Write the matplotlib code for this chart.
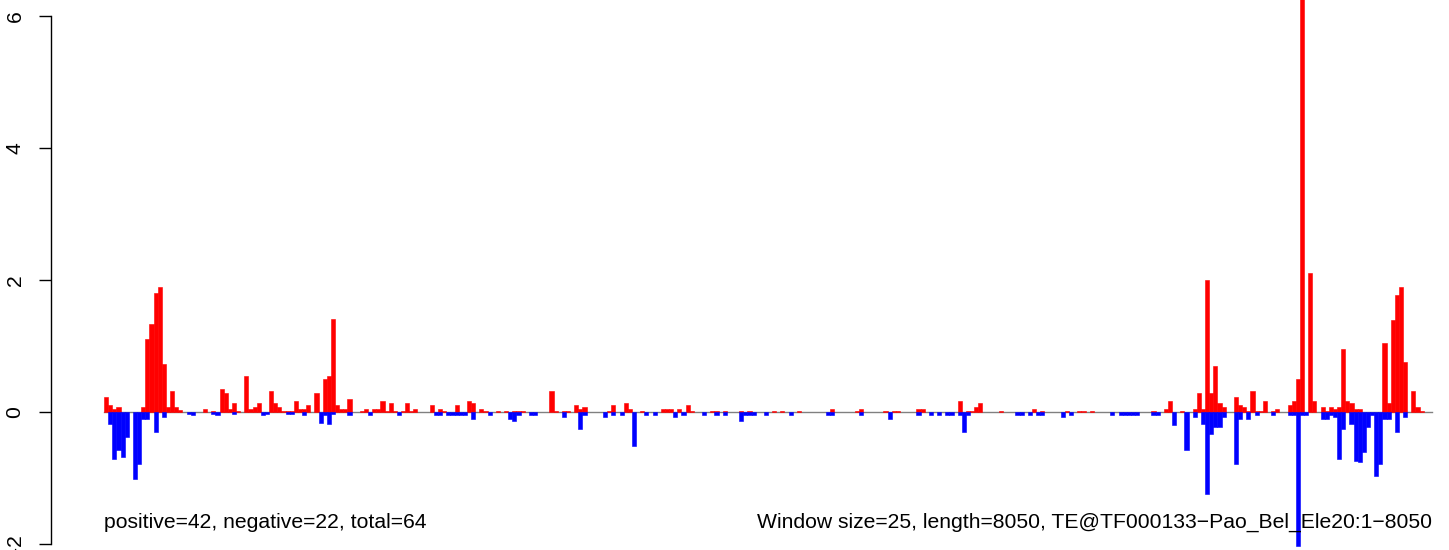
import numpy as np
import matplotlib.pyplot as plt

plt.rcParams['font.family'] = ['Liberation Sans', 'DejaVu Sans']

window = 25
seq_len = 8050

# window index -> score (positive strand, red)
pos_bins = [0, 1, 2, 3, 9, 10, 11, 12, 13, 14, 15, 16, 17, 18, 24, 26, 28, 29, 30, 31,
            32, 34, 35, 36, 37, 40, 41, 42, 43, 44, 45, 46, 47, 48, 49, 51, 53, 54, 55, 56,
            57, 58, 59, 62, 63, 65, 66, 67, 68, 69, 70, 72, 73, 74, 75, 79, 81, 82, 85, 88,
            89, 91, 92, 95, 97, 99, 100, 101, 108, 109, 111, 112, 114, 115, 116, 122, 123, 126, 127, 130,
            135, 136, 137, 139, 141, 142, 147, 148, 150, 154, 156, 162, 164, 168, 176, 182, 183, 189, 191, 192,
            197, 198, 207, 209, 210, 211, 212, 217, 225, 227, 233, 236, 237, 239, 254, 257, 258, 261, 264, 265,
            266, 267, 268, 269, 270, 271, 274, 275, 276, 277, 278, 279, 280, 281, 283, 284, 287, 288, 289, 290,
            292, 293, 295, 296, 297, 298, 299, 300, 301, 302, 303, 304, 310, 311, 312, 313, 314, 315, 317, 318,
            319]
pos_vals = [0.23, 0.10, 0.05, 0.08, 0.08, 1.10, 1.34, 1.81, 1.90, 0.73, 0.08, 0.31, 0.08, 0.03, 0.05, 0.02, 0.35, 0.28, 0.05, 0.13,
            0.02, 0.54, 0.05, 0.08, 0.13, 0.31, 0.13, 0.08, 0.02, 0.02, 0.02, 0.16, 0.05, 0.05, 0.10, 0.28, 0.50, 0.55, 1.41, 0.10,
            0.05, 0.05, 0.20, 0.02, 0.05, 0.05, 0.05, 0.16, 0.02, 0.13, 0.02, 0.02, 0.13, 0.02, 0.05, 0.10, 0.05, 0.02, 0.10, 0.16,
            0.13, 0.05, 0.02, 0.02, 0.02, 0.02, 0.02, 0.02, 0.32, 0.02, 0.02, 0.02, 0.10, 0.05, 0.08, 0.02, 0.10, 0.13, 0.05, 0.02,
            0.05, 0.05, 0.05, 0.05, 0.10, 0.02, 0.02, 0.02, 0.02, 0.02, 0.02, 0.02, 0.02, 0.02, 0.05, 0.02, 0.05, 0.02, 0.02, 0.02,
            0.05, 0.05, 0.16, 0.02, 0.02, 0.08, 0.13, 0.02, 0.05, 0.02, 0.02, 0.02, 0.02, 0.02, 0.02, 0.05, 0.17, 0.02, 0.05, 0.28,
            0.05, 2.00, 0.28, 0.69, 0.13, 0.08, 0.23, 0.10, 0.08, 0.02, 0.31, 0.02, 0.02, 0.17, 0.02, 0.05, 0.10, 0.16, 0.50, 6.50,
            2.11, 0.16, 0.08, 0.02, 0.08, 0.05, 0.08, 0.96, 0.16, 0.13, 0.05, 0.05, 1.04, 0.13, 1.40, 1.78, 1.90, 0.76, 0.31, 0.08,
            0.02]

# window index -> score (negative strand, blue)
neg_bins = [1, 2, 3, 4, 5, 7, 8, 9, 10, 12, 14, 20, 21, 26, 27, 31, 38, 39, 44, 45,
            48, 52, 53, 54, 55, 59, 64, 71, 80, 81, 83, 84, 85, 86, 87, 89, 93, 98, 99, 100,
            103, 104, 111, 115, 116, 121, 123, 125, 128, 131, 133, 138, 140, 145, 148, 150, 154, 155, 156, 157,
            160, 166, 175, 176, 183, 190, 197, 200, 202, 204, 205, 207, 208, 209, 221, 222, 224, 226, 227, 232,
            234, 244, 246, 247, 248, 249, 250, 254, 255, 259, 262, 264, 266, 267, 268, 269, 270, 271, 274, 275,
            277, 279, 283, 287, 288, 289, 290, 291, 295, 296, 297, 298, 299, 300, 302, 303, 304, 305, 306, 307,
            308, 309, 310, 311, 313, 315]
neg_vals = [-0.18, -0.72, -0.57, -0.69, -0.38, -1.02, -0.79, -0.11, -0.11, -0.31, -0.08, -0.03, -0.05, -0.03, -0.05, -0.03, -0.05, -0.03, -0.03, -0.03,
            -0.05, -0.16, -0.05, -0.19, -0.03, -0.05, -0.04, -0.04, -0.05, -0.04, -0.05, -0.04, -0.04, -0.04, -0.04, -0.11, -0.05, -0.11, -0.13, -0.04,
            -0.05, -0.04, -0.08, -0.26, -0.04, -0.08, -0.05, -0.05, -0.51, -0.04, -0.04, -0.08, -0.05, -0.05, -0.04, -0.04, -0.13, -0.04, -0.04, -0.04,
            -0.05, -0.05, -0.04, -0.04, -0.04, -0.11, -0.04, -0.04, -0.05, -0.04, -0.05, -0.05, -0.31, -0.05, -0.05, -0.04, -0.04, -0.04, -0.04, -0.08,
            -0.04, -0.04, -0.04, -0.04, -0.04, -0.05, -0.04, -0.04, -0.04, -0.20, -0.57, -0.08, -0.19, -1.25, -0.34, -0.23, -0.23, -0.08, -0.79, -0.11,
            -0.11, -0.04, -0.04, -0.05, -0.04, -2.03, -0.04, -0.04, -0.11, -0.11, -0.04, -0.08, -0.72, -0.26, -0.19, -0.75, -0.76, -0.61, -0.23, -0.04,
            -0.97, -0.79, -0.11, -0.11, -0.31, -0.08]

left_label = "positive=42, negative=22, total=64"
right_label = "Window size=25, length=8050, TE@TF000133\u2212Pao_Bel_Ele20:1\u22128050"
yticks = [-2, 0, 2, 4, 6]

W, H = 1449, 550
fig = plt.figure(figsize=(W / 100, H / 100), dpi=100)

# plot region in pixels, R style 4% padding (partly off canvas)
x0_px, x1_px = 51, 1485
top_px, bot_px = -5, 565
ax = fig.add_axes([x0_px / W, (H - bot_px) / H, (x1_px - x0_px) / W, (bot_px - top_px) / H])
ax.set_xlim(-0.04 * seq_len, 1.04 * seq_len)
ax.set_ylim(-2.32, 6.32)

ax.plot([0, seq_len], [0, 0], color='#808080', lw=1.0, zorder=1)

ax.bar(np.array(pos_bins) * window, pos_vals, width=window, align='edge',
       color='red', edgecolor='red', linewidth=0.4, zorder=2)
ax.bar(np.array(neg_bins) * window, neg_vals, width=window, align='edge',
       color='blue', edgecolor='blue', linewidth=0.4, zorder=2)

for side in ['top', 'right', 'bottom']:
    ax.spines[side].set_visible(False)
ax.spines['left'].set_bounds(-2, 6)
ax.spines['left'].set_linewidth(1.0)
ax.set_xticks([])
ax.set_yticks(yticks)
ax.set_yticklabels([str(t) for t in yticks], rotation=90, va='center')
ax.tick_params(axis='y', length=9, width=1.0, labelsize=15.2, pad=10)

ax.text(0, -1.67, left_label, ha='left', va='center', fontsize=15.2)
ax.text(seq_len, -1.67, right_label, ha='right', va='center', fontsize=15.2)

fig.savefig('out.png', dpi=100)
